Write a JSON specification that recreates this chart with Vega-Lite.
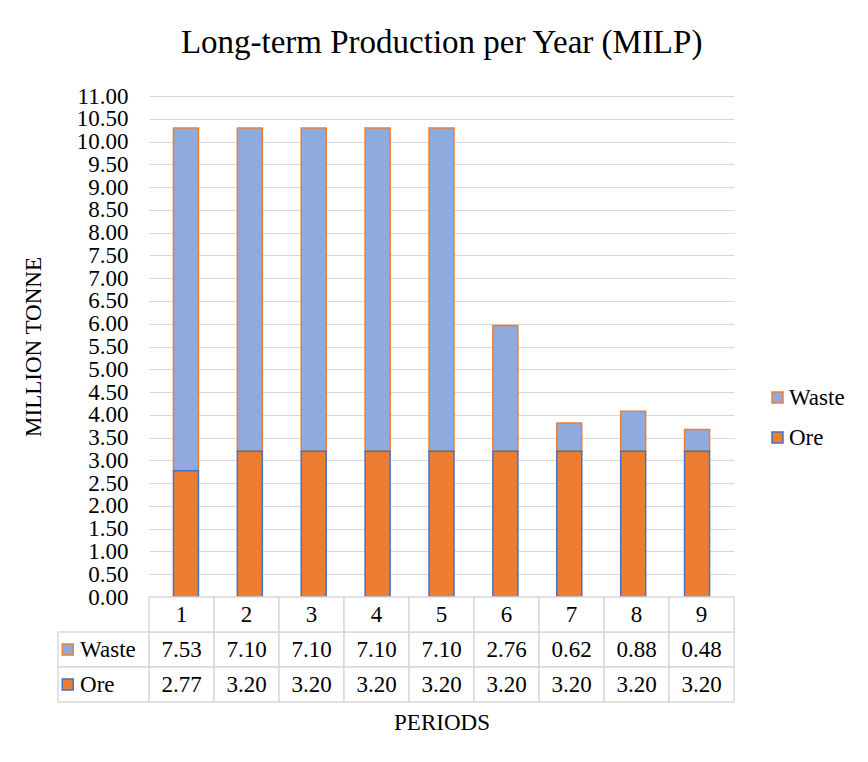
{
  "$schema": "https://vega.github.io/schema/vega-lite/v6.json",
  "background": "white",
  "padding": {"left": 22, "top": 27, "right": 5, "bottom": 5},
  "title": {
    "text": "Long-term Production per Year (MILP)",
    "font": "Liberation Serif",
    "fontSize": 33,
    "fontWeight": "normal",
    "color": "#000000",
    "anchor": "middle",
    "dx": 8,
    "offset": 25
  },
  "config": {
    "font": "Liberation Serif",
    "view": {"stroke": null},
    "axisX": {
      "labels": false,
      "ticks": false,
      "domain": false,
      "grid": false,
      "titleFont": "Liberation Serif",
      "titleFontSize": 23,
      "titleFontWeight": "normal",
      "titleColor": "#000000",
      "titlePadding": 9
    }
  },
  "datasets": {
    "prod": [
      {"period": 1, "series": "Waste", "value": 7.53},
      {"period": 2, "series": "Waste", "value": 7.10},
      {"period": 3, "series": "Waste", "value": 7.10},
      {"period": 4, "series": "Waste", "value": 7.10},
      {"period": 5, "series": "Waste", "value": 7.10},
      {"period": 6, "series": "Waste", "value": 2.76},
      {"period": 7, "series": "Waste", "value": 0.62},
      {"period": 8, "series": "Waste", "value": 0.88},
      {"period": 9, "series": "Waste", "value": 0.48},
      {"period": 1, "series": "Ore", "value": 2.77},
      {"period": 2, "series": "Ore", "value": 3.20},
      {"period": 3, "series": "Ore", "value": 3.20},
      {"period": 4, "series": "Ore", "value": 3.20},
      {"period": 5, "series": "Ore", "value": 3.20},
      {"period": 6, "series": "Ore", "value": 3.20},
      {"period": 7, "series": "Ore", "value": 3.20},
      {"period": 8, "series": "Ore", "value": 3.20},
      {"period": 9, "series": "Ore", "value": 3.20}
    ]
  },
  "spacing": 0,
  "bounds": "flush",
  "vconcat": [
    {
      "width": 585,
      "height": 501,
      "data": {"name": "prod"},
      "transform": [
        {"calculate": "datum.series === 'Ore' ? 0 : 1", "as": "stackOrder"}
      ],
      "mark": {"type": "bar", "width": 25, "strokeWidth": 1.5},
      "encoding": {
        "x": {
          "field": "period",
          "type": "quantitative",
          "scale": {"domain": [0.5, 9.5], "nice": false, "zero": false},
          "axis": null
        },
        "y": {
          "field": "value",
          "type": "quantitative",
          "stack": "zero",
          "scale": {"domain": [0, 11], "nice": false},
          "title": "MILLION TONNE",
          "axis": {
            "values": [0, 0.5, 1, 1.5, 2, 2.5, 3, 3.5, 4, 4.5, 5, 5.5, 6, 6.5, 7, 7.5, 8, 8.5, 9, 9.5, 10, 10.5, 11],
            "format": ".2f",
            "labelOverlap": false,
            "labelFont": "Liberation Serif",
            "labelFontSize": 23,
            "labelColor": "#000000",
            "labelPadding": 21,
            "ticks": false,
            "domain": false,
            "grid": true,
            "gridColor": "#d9d9d9",
            "gridWidth": 1,
            "titleFont": "Liberation Serif",
            "titleFontSize": 23,
            "titleFontWeight": "normal",
            "titleColor": "#000000",
            "titlePadding": 31
          }
        },
        "fill": {
          "field": "series",
          "type": "nominal",
          "scale": {"domain": ["Waste", "Ore"], "range": ["#8FAADC", "#ED7D31"]},
          "legend": {
            "title": null,
            "orient": "none",
            "legendX": 617,
            "legendY": 290,
            "symbolType": "square",
            "symbolSize": 120,
            "symbolStrokeWidth": 1.5,
            "labelFont": "Liberation Serif",
            "labelFontSize": 23,
            "labelColor": "#000000",
            "labelOffset": 0,
            "rowPadding": 16
          }
        },
        "stroke": {
          "field": "series",
          "type": "nominal",
          "scale": {"domain": ["Waste", "Ore"], "range": ["#ED7D31", "#4472C4"]},
          "legend": {
            "title": null,
            "orient": "none",
            "legendX": 617,
            "legendY": 290,
            "symbolType": "square",
            "symbolSize": 120,
            "symbolStrokeWidth": 1.5,
            "labelFont": "Liberation Serif",
            "labelFontSize": 23,
            "labelColor": "#000000",
            "labelOffset": 0,
            "rowPadding": 16
          }
        },
        "order": {"field": "stackOrder", "type": "quantitative"}
      }
    },
    {
      "width": 585,
      "height": 105,
      "data": {"name": "prod"},
      "transform": [
        {"calculate": "datum.period - 0.5", "as": "x0"},
        {"calculate": "datum.period + 0.5", "as": "x1"}
      ],
      "layer": [
        {
          "mark": {"type": "rect", "fill": "white", "stroke": "#d9d9d9", "strokeWidth": 1.5},
          "encoding": {
            "x": {"field": "x0", "type": "quantitative", "title": "PERIODS", "scale": {"domain": [0.5, 9.5], "nice": false, "zero": false}},
            "x2": {"field": "x1"},
            "y": {"field": "series", "type": "nominal", "scale": {"domain": ["head", "Waste", "Ore"], "paddingInner": 0, "paddingOuter": 0}, "axis": null}
          }
        },
        {
          "transform": [{"filter": "datum.series === 'Ore'"}],
          "mark": {"type": "rect", "fill": "white", "stroke": "#d9d9d9", "strokeWidth": 1.5},
          "encoding": {
            "x": {"field": "x0", "type": "quantitative", "title": "PERIODS"},
            "x2": {"field": "x1"},
            "y": {"datum": "head", "type": "nominal", "axis": null}
          }
        },
        {
          "transform": [{"filter": "datum.period === 1"}],
          "mark": {"type": "rect", "fill": "white", "stroke": "#d9d9d9", "strokeWidth": 1.5},
          "encoding": {
            "x": {"datum": -0.9, "type": "quantitative", "title": "PERIODS"},
            "x2": {"datum": 0.5},
            "y": {"field": "series", "type": "nominal", "axis": null}
          }
        },
        {
          "mark": {"type": "text", "font": "Liberation Serif", "fontSize": 23, "color": "#000000", "baseline": "middle"},
          "encoding": {
            "x": {"field": "period", "type": "quantitative", "title": "PERIODS"},
            "y": {"field": "series", "type": "nominal", "axis": null},
            "text": {"field": "value", "type": "quantitative", "format": ".2f"}
          }
        },
        {
          "transform": [{"filter": "datum.series === 'Ore'"}],
          "mark": {"type": "text", "font": "Liberation Serif", "fontSize": 23, "color": "#000000", "baseline": "middle"},
          "encoding": {
            "x": {"field": "period", "type": "quantitative", "title": "PERIODS"},
            "y": {"datum": "head", "type": "nominal", "axis": null},
            "text": {"field": "period", "type": "quantitative"}
          }
        },
        {
          "transform": [{"filter": "datum.period === 1"}],
          "mark": {"type": "point", "shape": "square", "filled": true, "size": 120, "strokeWidth": 1.5, "opacity": 1},
          "encoding": {
            "x": {"datum": -0.75, "type": "quantitative", "title": "PERIODS"},
            "y": {"field": "series", "type": "nominal", "axis": null},
            "fill": {"condition": {"test": "datum.series === 'Ore'", "value": "#ED7D31"}, "value": "#8FAADC"},
            "stroke": {"condition": {"test": "datum.series === 'Ore'", "value": "#4472C4"}, "value": "#ED7D31"}
          }
        },
        {
          "transform": [{"filter": "datum.period === 1"}],
          "mark": {"type": "text", "align": "left", "baseline": "middle", "font": "Liberation Serif", "fontSize": 23, "color": "#000000"},
          "encoding": {
            "x": {"datum": -0.56, "type": "quantitative", "title": "PERIODS"},
            "y": {"field": "series", "type": "nominal", "axis": null},
            "text": {"field": "series", "type": "nominal"}
          }
        }
      ]
    }
  ]
}
